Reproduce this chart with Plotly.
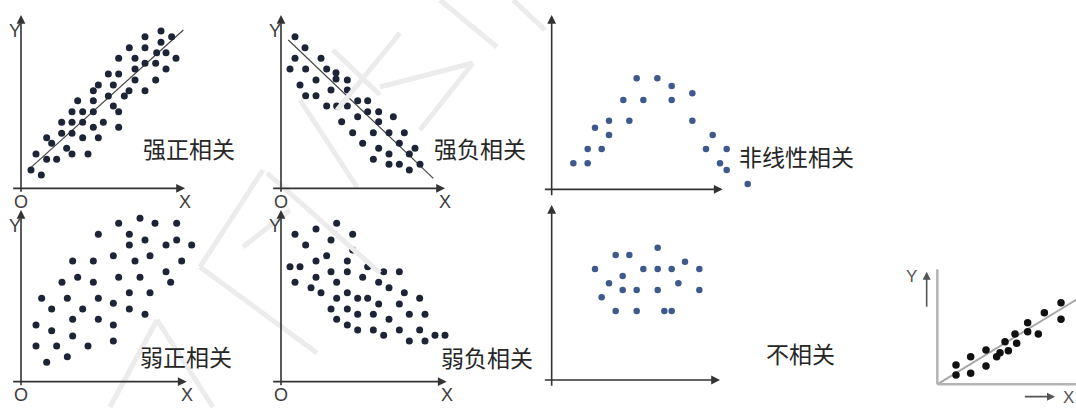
import plotly.graph_objects as go

W, H = 1076, 408

# ---------------- data (units: thirds of a pixel, measured from each panel's origin) -------------
strong_pos_pts = [(420,472),(372,455),(452,455),(325,422),(372,422),(420,438),(407,407),(435,407),
    (293,390),(342,390),(465,390),(372,375),(404,375),(342,358),(435,358),(262,343),(293,343),
    (342,325),(404,325),(232,310),(277,310),(217,293),(324,293),(372,293),(262,277),(310,277),
    (170,263),(217,263),(277,247),(153,230),(185,230),(217,230),(293,230),(122,198),(153,198),
    (185,198),(247,198),(217,183),(293,183),(122,165),(153,165),(77,152),(185,152),(232,152),
    (92,135),(137,120),(45,103),(153,103),(201,103),(77,87),(107,87),(30,55),(61,40)]
strong_pos_trend = [(27,60),(487,475)]

strong_neg_pts = [(42,455),(72,422),(42,390),(120,390),(27,358),(74,358),(137,358),(165,347),
    (165,328),(199,325),(105,325),(57,310),(150,295),(199,295),(74,278),(105,278),(230,263),
    (260,263),(137,247),(167,247),(199,247),(260,230),(230,215),(293,230),(337,215),(182,200),
    (293,200),(215,167),(277,167),(324,167),(370,167),(245,135),(355,135),(293,120),(402,120),
    (324,103),(385,103),(277,87),(324,72),(355,72),(417,72),(385,55)]
strong_neg_trend = [(22,445),(457,30)]

weak_pos_pts = [(357,490),(293,475),(402,475),(467,475),(232,442),(325,442),(325,410),(372,425),
    (435,410),(467,425),(512,410),(277,378),(387,378),(155,362),(217,362),(342,362),(482,362),
    (435,330),(170,313),(293,313),(357,313),(123,298),(217,298),(449,298),(62,250),(139,250),
    (232,250),(325,267),(387,267),(277,235),(92,218),(185,218),(325,218),(372,202),(155,187),
    (232,187),(45,170),(277,170),(92,153),(155,137),(277,122),(45,107),(107,107),(201,107),
    (77,58),(139,75)]

weak_neg_pts = [(167,475),(42,442),(105,458),(215,442),(150,425),(74,410),(215,395),(137,378),
    (105,362),(199,362),(27,345),(57,345),(260,345),(150,330),(199,330),(308,330),(355,330),
    (245,313),(105,313),(42,298),(167,298),(293,298),(90,282),(324,282),(120,267),(199,267),
    (370,267),(167,250),(230,250),(260,250),(416,250),(293,233),(355,233),(150,218),(199,218),
    (230,202),(277,202),(385,202),(432,202),(324,187),(167,187),(199,170),(230,155),(277,155),
    (355,155),(416,155),(308,139),(462,139),(492,139),(385,122),(432,122)]

nonlinear_pts = [(65,78),(108,78),(108,121),(150,121),(172,163),(130,185),(172,206),(233,206),
    (215,268),(275,268),(255,333),(317,333),(360,310),(360,268),(422,288),(422,206),(483,163),
    (463,121),(525,121),(505,78),(525,58),(588,16)]

uncorrelated_pts = [(318,397),(192,375),(233,375),(400,355),(130,333),(275,333),(318,333),
    (360,333),(443,333),(213,312),(172,290),(380,290),(213,270),(255,270),(318,270),(443,270),
    (150,248),(192,207),(255,207),(338,207),(360,207)]

inset_pts = [(56,58),(56,28),(100,83),(100,33),(146,103),(146,55),(178,83),(188,95),(203,128),
    (213,101),(233,151),(238,123),(271,185),(271,158),(303,151),(321,215),(371,245),(371,195)]
inset_trend = [(0,0),(430,262)]

labels = ["强正相关", "强负相关", "弱正相关", "弱负相关", "非线性相关", "不相关"]

# ---------------- panel geometry -------------
# box = (left, top, right, bottom) in page pixels, origin = axis crossing in page pixels
panels = [
    dict(box=(0, 0, 262, 212), origin=(21, 188.33), pts=strong_pos_pts, trend=strong_pos_trend,
         color="#1d2436", size=7, label=labels[0], lab_pos=(504, 120),
         xaxis=(-28, 492), yaxis=(-15, 520), oxy=True),
    dict(box=(258, 0, 545, 212), origin=(281, 188.33), pts=strong_neg_pts, trend=strong_neg_trend,
         color="#1d2436", size=7, label=labels[1], lab_pos=(597, 120),
         xaxis=(-28, 492), yaxis=(-15, 520), oxy=True),
    dict(box=(0, 198, 262, 408), origin=(21, 381.67), pts=weak_pos_pts, trend=None,
         color="#1d2436", size=7, label=labels[2], lab_pos=(494, 77),
         xaxis=(-28, 497), yaxis=(-15, 515), oxy=True),
    dict(box=(258, 198, 550, 408), origin=(281, 381.67), pts=weak_neg_pts, trend=None,
         color="#1d2436", size=7, label=labels[3], lab_pos=(617, 75),
         xaxis=(-28, 497), yaxis=(-15, 515), oxy=True),
    dict(box=(530, 0, 875, 200), origin=(551.67, 189.33), pts=nonlinear_pts, trend=None,
         color="#3e5a8c", size=6.5, label=labels[4], lab_pos=(735, 100),
         xaxis=(-25, 513), yaxis=(-22, 523), oxy=False),
    dict(box=(530, 190, 875, 408), origin=(551.67, 380), pts=uncorrelated_pts, trend=None,
         color="#3e5a8c", size=6.5, label=labels[5], lab_pos=(745, 80),
         xaxis=(-25, 505), yaxis=(-22, 525), oxy=False),
]

fig = go.Figure()
layout = dict(width=W, height=H, margin=dict(l=0, r=0, t=0, b=0),
              paper_bgcolor="white", plot_bgcolor="rgba(0,0,0,0)", showlegend=False)
annotations = []
shapes = []

# faint watermark strokes (decoration), page pixels
watermark = [((440, 0), (497, 47)), ((513, 0), (545, 30)), ((400, 33), (337, 110)),
             ((333, 50), (380, 95)), ((380, 87), (473, 63)), ((473, 63), (420, 130)),
             ((300, 100), (357, 187)), ((263, 170), (200, 267)), ((200, 267), (317, 353)),
             ((267, 173), (380, 273)), ((243, 247), (290, 210)), ((157, 320), (110, 407)),
             ((157, 320), (213, 407))]


def axname(i):
    return ("x" if i == 1 else f"x{i}"), ("y" if i == 1 else f"y{i}")


def add_axes(i, box, origin):
    left, top, right, bottom = box
    ox, oy = origin
    xk = "xaxis" if i == 1 else f"xaxis{i}"
    yk = "yaxis" if i == 1 else f"yaxis{i}"
    xa, ya = axname(i)
    layout[xk] = dict(domain=[left / W, right / W], range=[(left - ox) * 3, (right - ox) * 3],
                      visible=False, fixedrange=True, anchor=ya)
    layout[yk] = dict(domain=[1 - bottom / H, 1 - top / H], range=[(oy - bottom) * 3, (oy - top) * 3],
                      visible=False, fixedrange=True, anchor=xa)


page_i = 8
add_axes(page_i, (0, 0, W, H), (0, H))  # page axis: y up from bottom, units 1/3 px
pxa, pya = axname(page_i)
for (x0, y0), (x1, y1) in watermark:
    shapes.append(dict(type="line", xref=pxa, yref=pya, x0=x0 * 3, y0=(H - y0) * 3,
                       x1=x1 * 3, y1=(H - y1) * 3, line=dict(color="#ececec", width=5), layer="below"))

arrow_col = "#333333"
for i, p in enumerate(panels, start=1):
    add_axes(i, p["box"], p["origin"])
    xa, ya = axname(i)
    if p["trend"]:
        fig.add_trace(go.Scatter(x=[t[0] for t in p["trend"]], y=[t[1] for t in p["trend"]],
                                 mode="lines", line=dict(color="#454545", width=1.2),
                                 xaxis=xa, yaxis=ya, hoverinfo="skip", cliponaxis=False))
    fig.add_trace(go.Scatter(x=[t[0] for t in p["pts"]], y=[t[1] for t in p["pts"]], mode="markers",
                             marker=dict(color=p["color"], size=p["size"], line=dict(width=0)),
                             xaxis=xa, yaxis=ya, cliponaxis=False))
    # axis arrows
    x0, x1 = p["xaxis"]
    y0, y1 = p["yaxis"]
    for (tx, ty, hx, hy) in [(x0, 0, x1, 0), (0, y0, 0, y1)]:
        annotations.append(dict(x=hx, y=hy, ax=tx, ay=ty, xref=xa, yref=ya, axref=xa, ayref=ya,
                                text="", showarrow=True, arrowhead=2, arrowsize=1.1, arrowwidth=1.6,
                                arrowcolor=arrow_col, standoff=0, startstandoff=0))
    # text label
    annotations.append(dict(x=p["lab_pos"][0], y=p["lab_pos"][1], xref=xa, yref=ya, text=p["label"],
                            showarrow=False, font=dict(family="Noto Sans CJK SC", size=23, color="#262626")))
    if p["oxy"]:
        for t, (lx, ly) in zip(["O", "X", "Y"], [(0, -40), (x1, -40), (-18, y1 - 48)]):
            annotations.append(dict(x=lx, y=ly, xref=xa, yref=ya, text=t, showarrow=False,
                                    font=dict(family="Liberation Sans", size=18, color="#3c3c3c")))

# inset (bottom-right, partially cut)
gi = 7
add_axes(gi, (880, 230, W, H), (937.33, 384.33))
gxa, gya = axname(gi)
fig.add_trace(go.Scatter(x=[t[0] for t in inset_trend], y=[t[1] for t in inset_trend], mode="lines",
                         line=dict(color="#a8a8a8", width=2), xaxis=gxa, yaxis=gya, hoverinfo="skip",
                         cliponaxis=False))
fig.add_trace(go.Scatter(x=[t[0] for t in inset_pts], y=[t[1] for t in inset_pts], mode="markers",
                         marker=dict(color="#111111", size=7.5), xaxis=gxa, yaxis=gya, cliponaxis=False))
shapes.append(dict(type="line", xref=gxa, yref=gya, x0=0, y0=0, x1=0, y1=345,
                   line=dict(color="#b4b4b4", width=2.5)))
shapes.append(dict(type="line", xref=gxa, yref=gya, x0=0, y0=0, x1=440, y1=0,
                   line=dict(color="#b4b4b4", width=2.5)))
annotations.append(dict(x=-32, y=338, ax=-32, ay=228, xref=gxa, yref=gya, axref=gxa, ayref=gya, text="",
                        showarrow=True, arrowhead=2, arrowsize=1, arrowwidth=1.6, arrowcolor="#555"))
annotations.append(dict(x=353, y=-37, ax=258, ay=-37, xref=gxa, yref=gya, axref=gxa, ayref=gya, text="",
                        showarrow=True, arrowhead=2, arrowsize=1, arrowwidth=1.6, arrowcolor="#555"))
annotations.append(dict(x=-77, y=325, xref=gxa, yref=gya, text="Y", showarrow=False,
                        font=dict(family="Liberation Sans", size=17, color="#555")))
annotations.append(dict(x=392, y=-40, xref=gxa, yref=gya, text="X", showarrow=False,
                        font=dict(family="Liberation Sans", size=17, color="#555")))

layout["annotations"] = annotations
layout["shapes"] = shapes
fig.update_layout(**layout)
fig.write_html("out.html", config={"displayModeBar": False},
               post_script="document.body.style.margin='0';document.body.style.overflow='hidden';")
